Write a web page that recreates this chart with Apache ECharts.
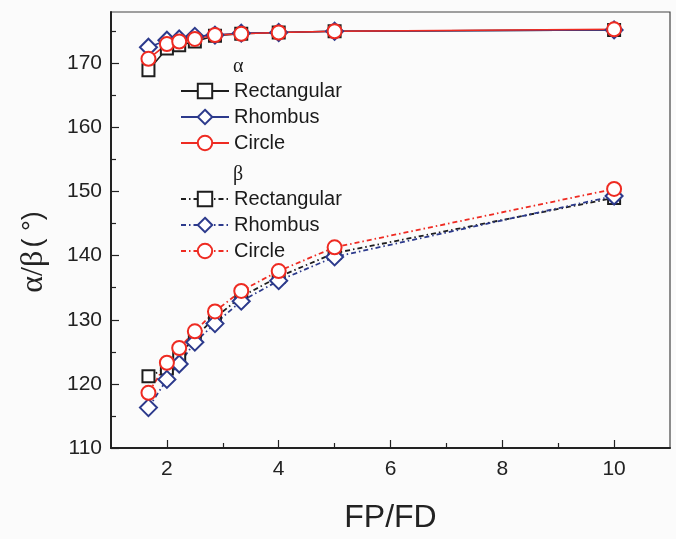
<!DOCTYPE html>
<html>
<head>
<meta charset="utf-8">
<script src="https://cdn.jsdelivr.net/npm/echarts@6/dist/echarts.min.js"></script>
<style>
html,body{margin:0;padding:0;background:#fbfbfb;}
#c{width:676px;height:539px;}
</style>
</head>
<body>
<div id="c"></div>
<script>
// ---- data ----
var xVals = [1.67, 2, 2.22, 2.5, 2.86, 3.33, 4, 5, 10];
var alphaRect    = [168.9, 172.3, 172.8, 173.4, 174.3, 174.6, 174.8, 175.0, 175.2];
var alphaRhombus = [172.5, 173.6, 173.8, 174.2, 174.4, 174.7, 174.8, 175.0, 175.2];
var alphaCircle  = [170.7, 173.0, 173.4, 173.8, 174.4, 174.6, 174.8, 175.0, 175.3];
var betaRect     = [121.2, 122.4, 124.4, 127.3, 130.3, 133.6, 136.7, 140.4, 149.0];
var betaRhombus  = [116.3, 120.7, 123.1, 126.5, 129.4, 132.9, 136.1, 139.8, 149.3];
var betaCircle   = [118.6, 123.3, 125.6, 128.2, 131.3, 134.5, 137.6, 141.3, 150.4];
var xTicks = [2, 4, 6, 8, 10];
var xMinorTicks = [3, 5, 7, 9];
var yTicks = [110, 120, 130, 140, 150, 160, 170];
var yMinorTicks = [115, 125, 135, 145, 155, 165, 175];
var shapeNames = ['Rectangular', 'Rhombus', 'Circle'];

var colors = {Rectangular: '#1e1e1e', Rhombus: '#2c3a8c', Circle: '#ee2b22'};
var symbols = {Rectangular: 'emptyRect', Rhombus: 'emptyDiamond', Circle: 'emptyCircle'};
var sizes = {Rectangular: 12, Rhombus: [17, 17], Circle: 14};

function pairs(ys){ return xVals.map(function(x,i){ return [x, ys[i]]; }); }

function mk(prefix, shape, ys, dashed){
  return {
    name: prefix + ' ' + shape,
    type: 'line',
    data: pairs(ys),
    symbol: symbols[shape],
    symbolSize: sizes[shape],
    itemStyle: {color: colors[shape], borderWidth: 1.8},
    lineStyle: {color: colors[shape], width: dashed ? 1.8 : 1.6, type: dashed ? [5, 3, 1.5, 3] : 'solid'},
    emphasis: {disabled: true},
    animation: false,
    z: 3
  };
}

var series = [
  mk('α', 'Rectangular', alphaRect, false),
  mk('α', 'Rhombus', alphaRhombus, false),
  mk('α', 'Circle', alphaCircle, false),
  mk('β', 'Rectangular', betaRect, true),
  mk('β', 'Rhombus', betaRhombus, true),
  mk('β', 'Circle', betaCircle, true)
];

var labelFont = {fontFamily: 'Liberation Sans, Arial, sans-serif', fontSize: 21, color: '#222'};
var legendText = {fontFamily: 'Liberation Sans, Arial, sans-serif', fontSize: 20, color: '#1a1a1a', lineHeight: 20};

var chart = echarts.init(document.getElementById('c'), null, {renderer: 'canvas'});
chart.setOption({
  backgroundColor: '#fbfbfb',
  animation: false,
  grid: {left: 111, top: 12, right: 6, bottom: 77, show: true, borderColor: '#444', borderWidth: 1.2, backgroundColor: 'transparent'},
  xAxis: [{
    type: 'value', min: 1, max: 11,
    name: 'FP/FD', nameLocation: 'middle', nameGap: 54,
    nameTextStyle: {fontFamily: 'Liberation Sans, Arial, sans-serif', fontSize: 32, color: '#222'},
    axisLine: {show: true, onZero: false, lineStyle: {color: '#222', width: 2}},
    axisTick: {show: true, inside: true, length: 8, customValues: xTicks, lineStyle: {color: '#222', width: 1.2}},
    axisLabel: Object.assign({customValues: xTicks, margin: 11}, labelFont),
    splitLine: {show: false}
  }, {
    type: 'value', min: 1, max: 11, position: 'bottom',
    axisLine: {show: false},
    axisTick: {show: true, inside: true, length: 5, customValues: xMinorTicks, lineStyle: {color: '#222', width: 1.2}},
    axisLabel: {show: false},
    splitLine: {show: false}
  }],
  yAxis: [{
    type: 'value', min: 110, max: 178,
    axisLine: {show: true, onZero: false, lineStyle: {color: '#222', width: 2}},
    axisTick: {show: true, inside: true, length: 8, customValues: yTicks, lineStyle: {color: '#222', width: 1.2}},
    axisLabel: Object.assign({customValues: yTicks, margin: 9}, labelFont),
    splitLine: {show: false}
  }, {
    type: 'value', min: 110, max: 178, position: 'left',
    axisLine: {show: false},
    axisTick: {show: true, inside: true, length: 5, customValues: yMinorTicks, lineStyle: {color: '#222', width: 1.2}},
    axisLabel: {show: false},
    splitLine: {show: false}
  }],
  legend: [{
    data: series.slice(0, 3).map(function(s){ return s.name; }),
    orient: 'vertical', left: 180, top: 81, padding: 0,
    itemWidth: 48, itemHeight: 18, itemGap: 6,
    selectedMode: false,
    formatter: function(n){ return n.split(' ')[1]; },
    textStyle: legendText
  }, {
    data: series.slice(3).map(function(s){ return s.name; }),
    orient: 'vertical', left: 180, top: 189, padding: 0,
    itemWidth: 48, itemHeight: 18, itemGap: 6,
    selectedMode: false,
    formatter: function(n){ return n.split(' ')[1]; },
    textStyle: legendText
  }],
  graphic: [
    {type: 'text', left: 233, top: 57, style: {text: 'α', font: '20px "Liberation Serif", serif', fill: '#1a1a1a'}},
    {type: 'text', left: 233, top: 165, style: {text: 'β', font: '20px "Liberation Serif", serif', fill: '#1a1a1a'}},
    {type: 'text', x: 34, y: 252, rotation: Math.PI / 2,
     style: {text: '{g|α/β} {s|( °)}', align: 'center', verticalAlign: 'middle',
       rich: {
         g: {fontFamily: 'Liberation Serif, Times New Roman, serif', fontSize: 32, fill: '#222'},
         s: {fontFamily: 'Liberation Sans, Arial, sans-serif', fontSize: 27, fill: '#222'}
       }}}
  ],
  series: series
});
</script>
</body>
</html>
